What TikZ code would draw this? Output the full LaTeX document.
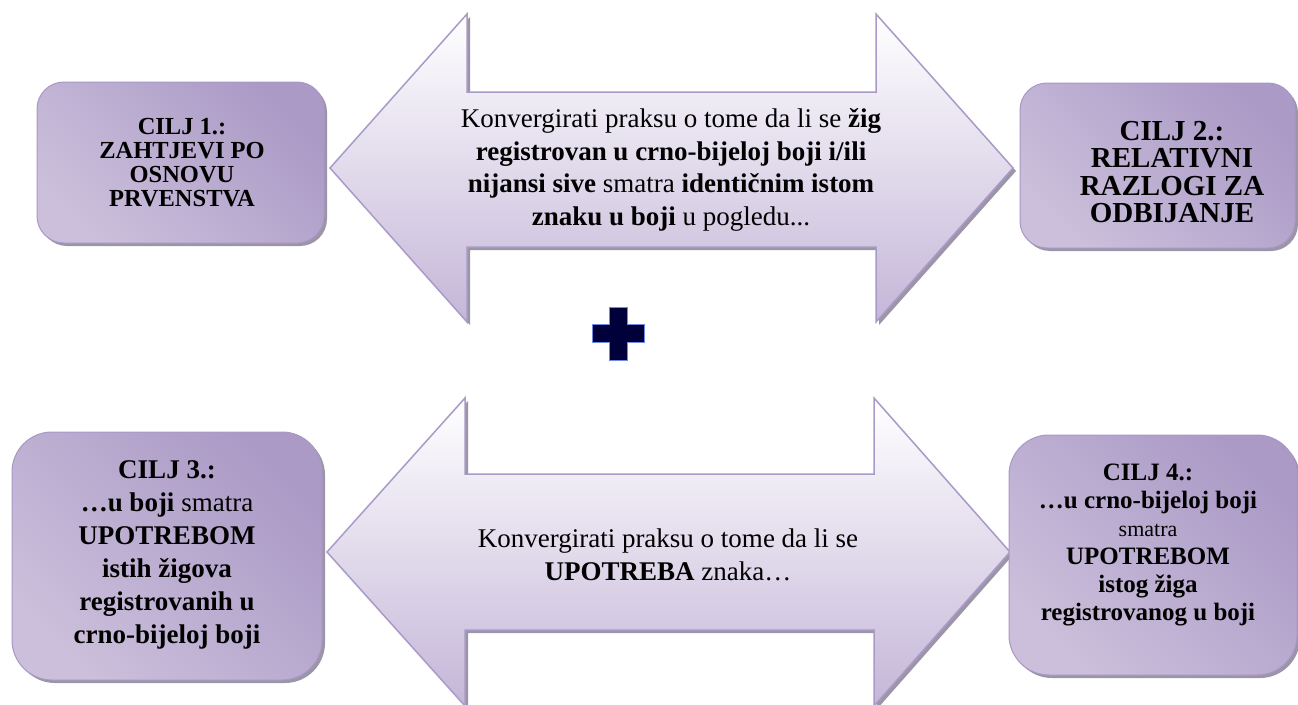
\documentclass[tikz,border=0pt]{standalone}
\usepackage{fontspec}
\setmainfont{Liberation Serif}
\usetikzlibrary{shadows}
\definecolor{boxdark}{HTML}{AB9AC6}
\definecolor{boxlight}{HTML}{ECE8F2}
\definecolor{boxmid}{HTML}{CBBFDB}
\definecolor{boxedge}{HTML}{A898C6}
\definecolor{arrowedge}{HTML}{A99AC8}
\definecolor{arrowbot}{HTML}{C4B6D8}
\definecolor{shadowc}{HTML}{9C95A8}
\definecolor{plusfill}{HTML}{00003A}
\definecolor{plusedge}{HTML}{6F8BE6}
\tikzset{
  cbox/.style={rectangle, draw=boxedge, line width=1pt, shading=axis,
    top color=boxdark, middle color=boxlight, bottom color=boxmid, shading angle=-45,
    drop shadow={shadow xshift=3pt, shadow yshift=-3pt, fill=shadowc, opacity=1}},
  arrowshape/.style={draw=arrowedge, line width=1.5pt, top color=white, bottom color=arrowbot,
    drop shadow={shadow xshift=3pt, shadow yshift=-3pt, fill=shadowc, opacity=1}},
  arrtext/.style={align=center, font=\fontsize{27}{32.5}\selectfont, inner sep=0pt},
  boxtext/.style={align=center, inner sep=0pt}
}
\begin{document}
\begin{tikzpicture}[x=1pt,y=-1pt]
\useasboundingbox (0,0) rectangle (1298,704);
\fill[white] (0,0) rectangle (1298,704);
% top double arrow
\path[arrowshape] (330,168) -- (467,14) -- (467,92) -- (876,92) -- (876,14) -- (1013,168)
  -- (876,322) -- (876,247) -- (467,247) -- (467,322) -- cycle;
\node[arrtext] (t1) at (671,170) {Konvergirati praksu o tome da li se \textbf{žig}\\
  \textbf{registrovan u crno-bijeloj boji i/ili}\\
  \textbf{nijansi sive} smatra \textbf{identičnim istom}\\
  \textbf{znaku u boji} u pogledu...};
% bottom double arrow
\path[arrowshape] (327,552) -- (465,398) -- (465,474) -- (874,474) -- (874,398) -- (1010,552)
  -- (874,706) -- (874,630) -- (465,630) -- (465,706) -- cycle;
\node[arrtext] (t2) at (668,555) {Konvergirati praksu o tome da li se\\
  \textbf{UPOTREBA} znaka…};
% plus sign
\path[fill=plusfill, draw=plusedge, line width=1pt] (609,307) -- (627,307) -- (627,324) -- (644,324)
  -- (644,342) -- (627,342) -- (627,360) -- (609,360) -- (609,342) -- (592,342)
  -- (592,324) -- (609,324) -- cycle;
% boxes
\node[cbox, rounded corners=27pt, minimum width=287pt, minimum height=161pt] (b1) at (180.5,162.5) {};
\node[boxtext, font=\bfseries\fontsize{24.5}{24}\selectfont] (l1) at (182,163) {CILJ 1.:\\ZAHTJEVI PO\\OSNOVU\\PRVENSTVA};
\node[cbox, rounded corners=27pt, minimum width=275pt, minimum height=165pt] (b2) at (1157.5,165.5) {};
\node[boxtext, font=\bfseries\fontsize{29}{27.5}\selectfont] (l2) at (1172,172) {CILJ 2.:\\RELATIVNI\\RAZLOGI ZA\\ODBIJANJE};
\node[cbox, rounded corners=40pt, minimum width=310pt, minimum height=248pt] (b3) at (167,556) {};
\node[boxtext, font=\fontsize{27}{33}\selectfont] (l3) at (167,555) {\textbf{CILJ 3.:}\\
  \textbf{…u boji} smatra\\ \textbf{UPOTREBOM}\\ \textbf{istih žigova}\\ \textbf{registrovanih u}\\ \textbf{crno-bijeloj boji}};
\node[cbox, rounded corners=40pt, minimum width=288pt, minimum height=240pt] (b4) at (1153,555) {};
\node[boxtext, font=\fontsize{25}{28}\selectfont] (l4) at (1148,545) {\textbf{CILJ 4.:}\\
  \textbf{…u crno-bijeloj boji}\\ {\fontsize{22}{28}\selectfont smatra}\\ \textbf{UPOTREBOM}\\ \textbf{istog žiga}\\ \textbf{registrovanog u boji}};
\end{tikzpicture}
\end{document}
